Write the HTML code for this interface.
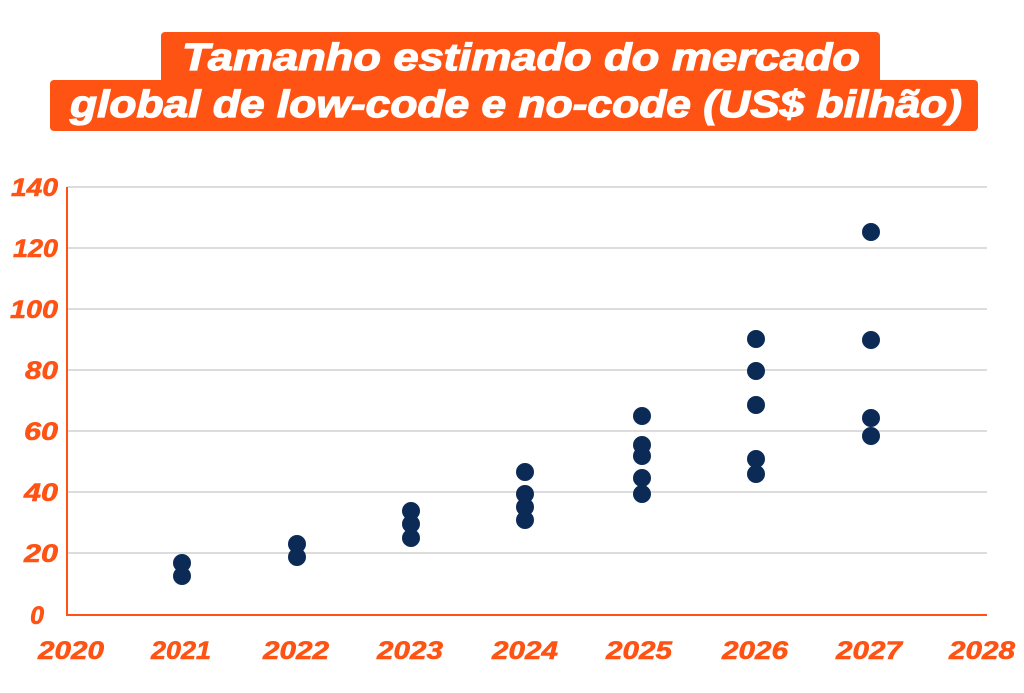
<!DOCTYPE html>
<html><head><meta charset="utf-8"><style>html,body{margin:0;padding:0;background:#fff}svg{display:block}</style></head>
<body>
<svg width="1024" height="693" viewBox="0 0 1024 693" xmlns="http://www.w3.org/2000/svg" font-family="Liberation Sans, sans-serif" font-weight="bold" font-style="italic">
<rect x="161" y="32" width="719" height="52" rx="4" fill="#FF5314"/>
<rect x="50" y="80" width="928" height="51" rx="4" fill="#FF5314"/>
<g fill="#fff" stroke="#fff" stroke-width="1.2">
<text x="182" y="70" font-size="38" textLength="678" lengthAdjust="spacingAndGlyphs">Tamanho estimado do mercado</text>
<text x="70" y="117" font-size="38" textLength="892" lengthAdjust="spacingAndGlyphs">global de low-code e no-code (US$ bilhão)</text>
</g>
<g stroke="#b8b8b8" stroke-width="1">
<line x1="67" y1="187" x2="987" y2="187"/><line x1="67" y1="248" x2="987" y2="248"/>
<line x1="67" y1="309" x2="987" y2="309"/><line x1="67" y1="370" x2="987" y2="370"/>
<line x1="67" y1="431" x2="987" y2="431"/><line x1="67" y1="492" x2="987" y2="492"/>
<line x1="67" y1="553" x2="987" y2="553"/>
</g>
<line x1="67" y1="187" x2="67" y2="616" stroke="#FF5314" stroke-width="2"/>
<line x1="66" y1="615" x2="987" y2="615" stroke="#FF5314" stroke-width="2"/>
<g fill="#FF5314" stroke="#FF5314" stroke-width="0.6" font-size="25" text-anchor="end">
<text x="58" y="196" textLength="47" lengthAdjust="spacingAndGlyphs">140</text>
<text x="58" y="257" textLength="45" lengthAdjust="spacingAndGlyphs">120</text>
<text x="58" y="318" textLength="48" lengthAdjust="spacingAndGlyphs">100</text>
<text x="58" y="379" textLength="33" lengthAdjust="spacingAndGlyphs">80</text>
<text x="58" y="440" textLength="34" lengthAdjust="spacingAndGlyphs">60</text>
<text x="58" y="501" textLength="34" lengthAdjust="spacingAndGlyphs">40</text>
<text x="58" y="562" textLength="34" lengthAdjust="spacingAndGlyphs">20</text>
<text x="44" y="624">0</text>
</g>
<g fill="#FF5314" stroke="#FF5314" stroke-width="0.6" font-size="25" text-anchor="middle">
<text x="71" y="659" textLength="66" lengthAdjust="spacingAndGlyphs">2020</text>
<text x="181" y="659" textLength="60" lengthAdjust="spacingAndGlyphs">2021</text>
<text x="296" y="659" textLength="66" lengthAdjust="spacingAndGlyphs">2022</text>
<text x="410" y="659" textLength="66" lengthAdjust="spacingAndGlyphs">2023</text>
<text x="525" y="659" textLength="66" lengthAdjust="spacingAndGlyphs">2024</text>
<text x="639" y="659" textLength="66" lengthAdjust="spacingAndGlyphs">2025</text>
<text x="755" y="659" textLength="66" lengthAdjust="spacingAndGlyphs">2026</text>
<text x="869" y="659" textLength="66" lengthAdjust="spacingAndGlyphs">2027</text>
<text x="982" y="659" textLength="66" lengthAdjust="spacingAndGlyphs">2028</text>
</g>
<g fill="#0B2A55">
<circle cx="182" cy="563" r="9"/><circle cx="182" cy="576" r="9"/>
<circle cx="297" cy="544" r="9"/><circle cx="297" cy="557" r="9"/>
<circle cx="411" cy="511" r="9"/><circle cx="411" cy="524" r="9"/><circle cx="411" cy="538" r="9"/>
<circle cx="525" cy="472" r="9"/><circle cx="525" cy="494" r="9"/><circle cx="525" cy="507" r="9"/><circle cx="525" cy="520" r="9"/>
<circle cx="642" cy="416" r="9"/><circle cx="642" cy="445" r="9"/><circle cx="642" cy="456" r="9"/><circle cx="642" cy="478" r="9"/><circle cx="642" cy="494" r="9"/>
<circle cx="756" cy="339" r="9"/><circle cx="756" cy="371" r="9"/><circle cx="756" cy="405" r="9"/><circle cx="756" cy="459" r="9"/><circle cx="756" cy="474" r="9"/>
<circle cx="871" cy="232" r="9"/><circle cx="871" cy="340" r="9"/><circle cx="871" cy="418" r="9"/><circle cx="871" cy="436" r="9"/>
</g>
</svg>
</body></html>
